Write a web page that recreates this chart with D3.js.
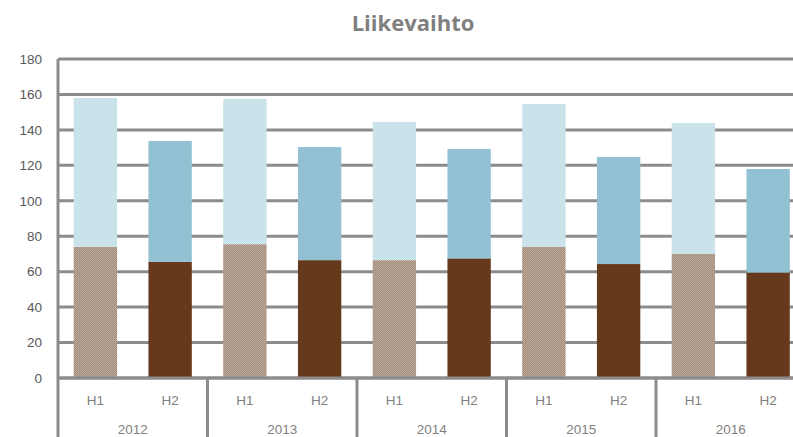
<!DOCTYPE html>
<html><head><meta charset="utf-8">
<script src="https://cdn.jsdelivr.net/npm/d3@7"></script>
<style>body{margin:0;background:#fff}svg{display:block}</style>
</head><body>
<svg id="c" width="793" height="437"></svg>
<script>
const years = ["2012","2013","2014","2015","2016"];
const halves = ["H1","H2"];
// lower (dark) segment and upper (light) segment, per year: [H1, H2]
const lowerValues = [[74,65.5],[75.5,66.5],[66.5,67.5],[74,64.3],[70,59.5]];
const upperValues = [[84,68.2],[82,63.8],[78,61.7],[80.6,60.4],[73.8,58.4]];
const yTicks = [0,20,40,60,80,100,120,140,160,180];
const title = "Liikevaihto";

const svg = d3.select("#c");
const defs = svg.append("defs");
function checker(id, a, b){
  const p = defs.append("pattern").attr("id",id).attr("width",2).attr("height",2).attr("patternUnits","userSpaceOnUse");
  p.append("rect").attr("width",2).attr("height",2).attr("fill",a);
  p.append("rect").attr("width",1).attr("height",1).attr("fill",b);
  p.append("rect").attr("x",1).attr("y",1).attr("width",1).attr("height",1).attr("fill",b);
}
checker("pBrown","#a48d7d","#bba898");
checker("pBlue","#c1dde6","#d3e8ee");

const colors = {
  H1:{lower:"url(#pBrown)", upper:"url(#pBlue)"},
  H2:{lower:"#66391c", upper:"#92c1d3"}
};

const mLeft = 58, groupW = 149.5, mTop = 59, mBottom = 378;
const cats = [];
years.forEach((yr,i)=>halves.forEach((h,j)=>cats.push({year:yr,half:h,lower:lowerValues[i][j],upper:upperValues[i][j]})));

const x = d3.scaleBand().domain(cats.map((d,i)=>i)).range([mLeft, mLeft+groupW*years.length]).paddingInner(0.42).paddingOuter(0.21);
const xg = d3.scaleBand().domain(years).range([mLeft, mLeft+groupW*years.length]);
const y = d3.scaleLinear().domain([0,180]).range([mBottom, mTop]);

// title
svg.append("text").attr("x",413).attr("y",31).attr("text-anchor","middle")
  .attr("font-family","'Open Sans', sans-serif").attr("font-weight","bold").attr("font-size",22)
  .attr("fill","#7f7f7f").text(title);

// gridlines
svg.append("g").selectAll("line").data(yTicks).join("line")
  .attr("x1",mLeft).attr("x2",793).attr("y1",d=>y(d)).attr("y2",d=>y(d))
  .attr("stroke","#8c8c8c").attr("stroke-width",3);

// y axis labels
const yAxis = d3.axisLeft(y).tickValues(yTicks).tickSize(0).tickPadding(16);
const ya = svg.append("g").attr("transform",`translate(${mLeft},0)`).call(yAxis);
ya.select(".domain").remove();
ya.selectAll("text").attr("font-family","'Liberation Sans', Arial, sans-serif").attr("font-size",13.5).attr("fill","#595959");

// bars
const bars = svg.append("g");
bars.selectAll("rect.lo").data(cats).join("rect").attr("class","lo")
  .attr("x",(d,i)=>x(i)).attr("width",x.bandwidth())
  .attr("y",d=>y(d.lower)).attr("height",d=>y(0)-y(d.lower))
  .attr("fill",d=>colors[d.half].lower);
bars.selectAll("rect.up").data(cats).join("rect").attr("class","up")
  .attr("x",(d,i)=>x(i)).attr("width",x.bandwidth())
  .attr("y",d=>y(d.lower+d.upper)).attr("height",d=>y(d.lower)-y(d.lower+d.upper))
  .attr("fill",d=>colors[d.half].upper);

// axes lines
svg.append("line").attr("x1",mLeft).attr("x2",mLeft).attr("y1",mTop).attr("y2",437).attr("stroke","#8c8c8c").attr("stroke-width",3);
svg.append("line").attr("x1",mLeft).attr("x2",793).attr("y1",mBottom).attr("y2",mBottom).attr("stroke","#8c8c8c").attr("stroke-width",3);
svg.append("g").selectAll("line").data(years.slice(1)).join("line")
  .attr("x1",d=>xg(d)).attr("x2",d=>xg(d)).attr("y1",mBottom).attr("y2",437)
  .attr("stroke","#8c8c8c").attr("stroke-width",3);

// x labels
svg.append("g").selectAll("text").data(cats).join("text")
  .attr("x",(d,i)=>x(i)+x.bandwidth()/2).attr("y",405).attr("text-anchor","middle")
  .attr("font-family","'Liberation Sans', Arial, sans-serif").attr("font-size",13.5).attr("fill","#7f7f7f")
  .text(d=>d.half);
svg.append("g").selectAll("text").data(years).join("text")
  .attr("x",d=>xg(d)+xg.bandwidth()/2).attr("y",434).attr("text-anchor","middle")
  .attr("font-family","'Liberation Sans', Arial, sans-serif").attr("font-size",13.5).attr("fill","#7f7f7f")
  .text(d=>d);
</script>
</body></html>
